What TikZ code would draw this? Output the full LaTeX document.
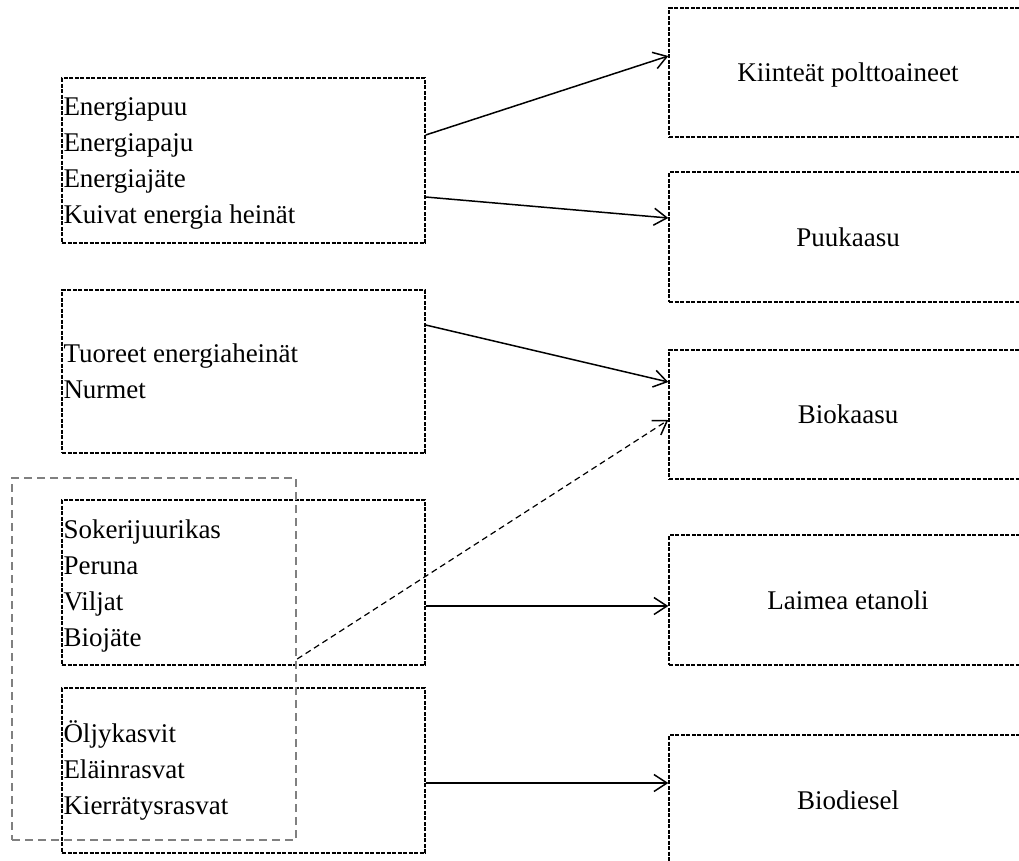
\documentclass[tikz,border=0pt]{standalone}
\usepackage{fontspec}
\setmainfont{Liberation Serif}
\usetikzlibrary{arrows.meta,calc}
\tikzset{
  srcbox/.style={draw=black, line width=1.4pt, dash pattern=on 4pt off 1.5pt,
    rectangle, minimum width=363pt},
  srctext/.style={anchor=west, align=left, inner xsep=2pt, inner ysep=0pt,
    font=\fontsize{27}{36}\selectfont},
  dstbox/.style={draw=black, line width=1.4pt, dash pattern=on 4pt off 1.5pt,
    rectangle, minimum width=358pt, minimum height=129pt, align=center,
    font=\fontsize{27}{36}\selectfont},
  dsttext/.style={align=center, font=\fontsize{27}{36}\selectfont},
  grpbox/.style={draw=gray, line width=2.4pt, dash pattern=on 8pt off 5pt,
    rectangle, minimum width=284pt, minimum height=362pt},
  flow/.style={draw=black, line width=1.5pt, -{Straight Barb[length=13pt,width=17pt,line width=1.5pt]}},
  dflow/.style={flow, dash pattern=on 6pt off 4pt, line width=1.2pt}
}
\begin{document}
\begin{tikzpicture}[x=1pt,y=-1pt]
\useasboundingbox (0,0) rectangle (1019,860);
\clip (0,0) rectangle (1019,860);
\fill[white] (0,0) rectangle (1019,860);
% source boxes
\node[srcbox, minimum height=165pt] (b1) at (243.5,160.5) {};
\node[srcbox, minimum height=163pt] (b2) at (243.5,371.5) {};
\node[srcbox, minimum height=165pt] (b3) at (243.5,582.5) {};
\node[srcbox, minimum height=165pt] (b4) at (243.5,770.5) {};
\node[srctext] (t1) at ([yshift=-3pt]b1.west)
  {Energiapuu\\Energiapaju\\Energiajäte\\Kuivat energia heinät};
\node[srctext] (t2) at (b2.west) {Tuoreet energiaheinät\\Nurmet};
\node[srctext] (t3) at ([yshift=-3pt]b3.west)
  {Sokerijuurikas\\Peruna\\Viljat\\Biojäte};
\node[srctext] (t4) at (b4.west) {Öljykasvit\\Eläinrasvat\\Kierrätysrasvat};
% group box
\node[grpbox] (grp) at (154,659) {};
% destination boxes
\node[dstbox] (r1) at (848,72.5) {};
\node[dsttext] (r1t) at ([yshift=-3pt]r1.center) {Kiinteät polttoaineet};
\node[dstbox, minimum height=130pt] (r2) at (848,237) {Puukaasu};
\node[dstbox] (r3) at (848,414.5) {Biokaasu};
\node[dstbox, minimum height=130pt] (r4) at (848,600) {Laimea etanoli};
\node[dstbox, minimum height=130pt] (r5) at (848,800) {Biodiesel};
% connectors
\draw[flow] ([yshift=25.5pt]b1.east) -- ([yshift=16.5pt]r1.west);
\draw[flow] ([yshift=-36.5pt]b1.east) -- ([yshift=19pt]r2.west);
\draw[flow] ([yshift=46.5pt]b2.east) -- ([yshift=32.5pt]r3.west);
\draw[dflow] (grp.east) -- ([yshift=-5.5pt]r3.west);
\draw[flow] ([yshift=-23.5pt]b3.east) -- ([yshift=-6pt]r4.west);
\draw[flow] ([yshift=-12.5pt]b4.east) -- ([yshift=17pt]r5.west);
\end{tikzpicture}
\end{document}
